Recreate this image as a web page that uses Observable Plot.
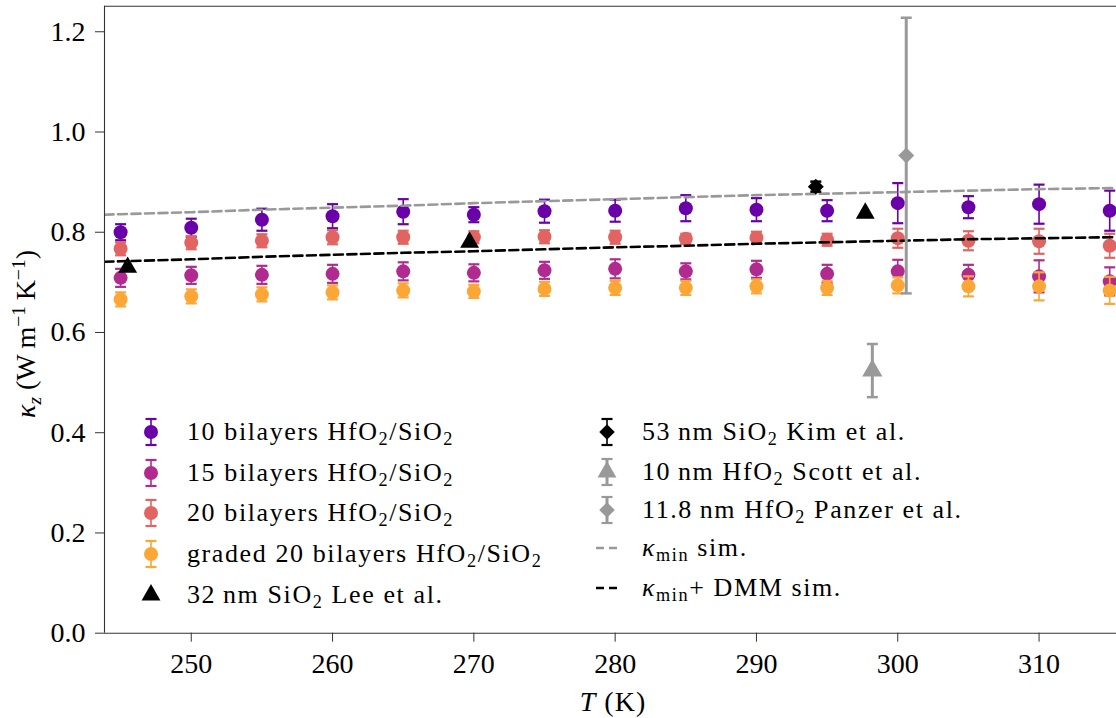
<!DOCTYPE html>
<html><head><meta charset="utf-8">
<script src="https://cdn.jsdelivr.net/npm/d3@7"></script>
<script src="https://cdn.jsdelivr.net/npm/@observablehq/plot@0.6"></script>
<style>
html,body{margin:0;padding:0;background:#fff;}
#wrap{position:relative;width:1116px;height:718px;overflow:hidden;font-family:"Liberation Serif","Times New Roman",Times,"DejaVu Serif",serif;color:#000;}
#wrap svg text{font-family:"Liberation Serif","Times New Roman",Times,"DejaVu Serif",serif;}
.lab{position:absolute;white-space:nowrap;line-height:30px;}
.sb{font-size:70%;position:relative;top:0.3em;}
.sp{font-size:70%;position:relative;top:-0.5em;}
.ico{position:absolute;width:40px;height:40px;overflow:visible;}
</style></head>
<body><div id="wrap"></div>
<script>
// ---- data ----
const temps = [245,250,255,260,265,270,275,280,285,290,295,300,305,310,315];
const k10 = [0.800,0.809,0.825,0.832,0.841,0.835,0.842,0.843,0.848,0.845,0.843,0.858,0.850,0.856,0.843];
const e10 = [0.016,0.018,0.022,0.024,0.025,0.015,0.023,0.022,0.026,0.023,0.021,0.040,0.022,0.039,0.040];
const k15 = [0.709,0.714,0.715,0.717,0.722,0.719,0.724,0.727,0.722,0.726,0.717,0.722,0.715,0.712,0.702];
const e15 = [0.018,0.017,0.018,0.018,0.018,0.017,0.017,0.019,0.016,0.017,0.018,0.023,0.020,0.032,0.028];
const k20 = [0.767,0.779,0.783,0.790,0.790,0.790,0.791,0.790,0.787,0.789,0.785,0.788,0.783,0.782,0.773];
const e20 = [0.013,0.013,0.013,0.014,0.013,0.012,0.013,0.013,0.010,0.012,0.012,0.019,0.019,0.025,0.024];
const kGraded = [0.666,0.672,0.676,0.680,0.684,0.682,0.687,0.689,0.689,0.692,0.689,0.694,0.692,0.692,0.684];
const eGraded = [0.014,0.014,0.014,0.014,0.014,0.013,0.014,0.014,0.014,0.014,0.014,0.016,0.020,0.028,0.027];

const leeT = [245.5, 269.7, 297.7];
const leeK = [0.730, 0.780, 0.838];
const kimT = [294.2], kimK = [0.891], kimE = [0.010];
const scottT = [298.2], scottK = [0.524], scottE = [0.053];
const panzerT = [300.6], panzerK = [0.953], panzerE = [0.275];

const simT = [243.86,245,250,255,260,265,270,275,280,285,290,295,300,305,310,315,315.48];
const kminSim = [0.835,0.836,0.840,0.845,0.849,0.853,0.858,0.862,0.866,0.870,0.874,0.877,0.880,0.883,0.886,0.888,0.888];
const dmmSim  = [0.741,0.742,0.746,0.751,0.755,0.759,0.762,0.766,0.770,0.773,0.777,0.780,0.783,0.786,0.788,0.790,0.790];

const xTicks = [250,260,270,280,290,300,310];
const yTicks = [0,0.2,0.4,0.6,0.8,1.0,1.2];
const xDomain = [243.86, 315.48];
const yDomain = [0, 1.251];

const colors = {s10:"#6a00a8", s15:"#b12a90", s20:"#e16462", graded:"#fca636", black:"#000000", gray:"#999999"};
const FONT = '"Liberation Serif","Times New Roman",Times,"DejaVu Serif",serif';

// ---- build tables ----
const tab = (T, K, E) => T.map((t, i) => ({T: t, k: K[i], e: E ? E[i] : 0}));
const d10 = tab(temps, k10, e10), d15 = tab(temps, k15, e15), d20 = tab(temps, k20, e20), dG = tab(temps, kGraded, eGraded);
const dLee = tab(leeT, leeK), dKim = tab(kimT, kimK, kimE), dScott = tab(scottT, scottK, scottE), dPanzer = tab(panzerT, panzerK, panzerE);
const dKmin = simT.map((t, i) => ({T: t, k: kminSim[i]}));
const dDmm = simT.map((t, i) => ({T: t, k: dmmSim[i]}));

const capSym = (w) => ({draw(ctx){ ctx.moveTo(-w, 0); ctx.lineTo(w, 0); }});

function errMarks(data, o) {
  return [
    Plot.ruleX(data, {x: "T", y1: d => d.k - d.e, y2: d => d.k + d.e, stroke: o.color, strokeWidth: o.lw}),
    Plot.dot(data, {x: "T", y: d => d.k + d.e, symbol: capSym(o.capW), stroke: o.color, strokeWidth: o.capLw, fill: "none"}),
    Plot.dot(data, {x: "T", y: d => d.k - d.e, symbol: capSym(o.capW), stroke: o.color, strokeWidth: o.capLw, fill: "none"}),
    Plot.dot(data, {x: "T", y: "k", r: o.r, symbol: o.symbol, fill: o.color, stroke: "none"})
  ];
}

const seriesOpt = c => ({color: c, lw: 1.6, capW: 5.5, capLw: 2.2, r: 7, symbol: "circle"});

const plot = Plot.plot({
  width: 1116, height: 718,
  marginLeft: 104, marginRight: 0, marginTop: 5.7, marginBottom: 85.3,
  style: {fontFamily: FONT, fontSize: "28px", background: "transparent", overflow: "visible"},
  x: {domain: xDomain},
  y: {domain: yDomain},
  marks: [
    ...errMarks(d10, seriesOpt(colors.s10)),
    ...errMarks(d15, seriesOpt(colors.s15)),
    ...errMarks(d20, seriesOpt(colors.s20)),
    ...errMarks(dG, seriesOpt(colors.graded)),
    Plot.line(dKmin, {x: "T", y: "k", stroke: colors.gray, strokeWidth: 2.6, strokeDasharray: "9,4.5", clip: true}),
    Plot.line(dDmm, {x: "T", y: "k", stroke: colors.black, strokeWidth: 2.6, strokeDasharray: "9,4.5", clip: true}),
    Plot.dot(dLee, {x: "T", y: "k", r: 7, symbol: "triangle", fill: colors.black, stroke: "none"}),
    ...errMarks(dKim, {color: colors.black, lw: 2, capW: 5.5, capLw: 2.5, r: 7.2, symbol: "diamond2"}),
    ...errMarks(dScott, {color: colors.gray, lw: 3, capW: 5.5, capLw: 2.5, r: 7.5, symbol: "triangle"}),
    ...errMarks(dPanzer, {color: colors.gray, lw: 3, capW: 5.5, capLw: 2.5, r: 7.2, symbol: "diamond2"}),
    Plot.ruleY([yDomain[0]], {stroke: "#333", strokeWidth: 1.1}),
    Plot.ruleY([yDomain[1]], {stroke: "#333", strokeWidth: 1.1}),
    Plot.ruleX([xDomain[0]], {stroke: "#333", strokeWidth: 1.1}),
    Plot.axisY({ticks: yTicks, tickFormat: d3.format(".1f"), tickSize: 9, tickPadding: 10, label: null, stroke: "#333", fontFamily: FONT}),
    Plot.axisX({ticks: xTicks, tickFormat: d => String(d), tickSize: 9, tickPadding: 11, label: null, stroke: "#333", fontFamily: FONT})
  ]
});

const wrap = document.getElementById("wrap");
wrap.appendChild(plot);

// axis titles
function addLabel(html, css) {
  const d = document.createElement("div");
  d.className = "lab";
  d.innerHTML = html;
  Object.assign(d.style, css);
  wrap.appendChild(d);
  return d;
}
addLabel('<i>T</i> (K)', {left: "613px", top: "686.5px", fontSize: "28px", transform: "translateX(-50%)", letterSpacing: "1px"});
addLabel('<i>κ<span class="sb">z</span></i> (W&thinsp;m<span class="sp">−1</span>&thinsp;K<span class="sp">−1</span>)',
  {left: "27px", top: "334px", fontSize: "28px", transform: "translate(-50%,-50%) rotate(-90deg)"});

// legend
const legendItems = [
  {html: '10 bilayers HfO<span class="sb">2</span>/SiO<span class="sb">2</span>', icon: "err", color: colors.s10, sym: "circle", col: 0, row: 0},
  {html: '15 bilayers HfO<span class="sb">2</span>/SiO<span class="sb">2</span>', icon: "err", color: colors.s15, sym: "circle", col: 0, row: 1},
  {html: '20 bilayers HfO<span class="sb">2</span>/SiO<span class="sb">2</span>', icon: "err", color: colors.s20, sym: "circle", col: 0, row: 2},
  {html: 'graded 20 bilayers HfO<span class="sb">2</span>/SiO<span class="sb">2</span>', icon: "err", color: colors.graded, sym: "circle", col: 0, row: 3},
  {html: '32&thinsp;nm SiO<span class="sb">2</span> Lee et al.', icon: "pt", color: colors.black, sym: "triangle", col: 0, row: 4},
  {html: '53&thinsp;nm SiO<span class="sb">2</span> Kim et al.', icon: "err", color: colors.black, sym: "diamond2", col: 1, row: 0},
  {html: '10&thinsp;nm HfO<span class="sb">2</span> Scott et al.', icon: "err", color: colors.gray, sym: "triangle", col: 1, row: 1},
  {html: '11.8&thinsp;nm HfO<span class="sb">2</span> Panzer et al.', icon: "err", color: colors.gray, sym: "diamond2", col: 1, row: 2},
  {html: '<i>κ</i><span class="sb">min</span> sim.', icon: "dash", color: colors.gray, col: 1, row: 3},
  {html: '<i>κ</i><span class="sb">min</span>+ DMM sim.', icon: "dash", color: colors.black, col: 1, row: 4}
];
const colX = [{m: 151, t: 187}, {m: 607, t: 642}];
const rowY = [[432, 472.7, 513, 554, 595], [432, 471.7, 510, 548, 587.7]];
const symMap = {circle: d3.symbolCircle, triangle: d3.symbolTriangle, diamond2: d3.symbolDiamond2};
const symR = {circle: 7, triangle: 7, diamond2: 7};

for (const it of legendItems) {
  const cx = colX[it.col], cy = rowY[it.col][it.row];
  const svg = d3.select(wrap).append("svg").attr("class", "ico")
    .style("left", (cx.m - 20) + "px").style("top", (cy - 20) + "px")
    .attr("width", 40).attr("height", 40);
  const g = svg.append("g").attr("transform", "translate(20,20)");
  if (it.icon === "err") {
    const lw = it.color === colors.gray ? 3 : 1.6;
    g.append("line").attr("x1", 0).attr("x2", 0).attr("y1", -13).attr("y2", 13).attr("stroke", it.color).attr("stroke-width", lw);
    for (const yy of [-13, 13]) g.append("line").attr("x1", -5.5).attr("x2", 5.5).attr("y1", yy).attr("y2", yy).attr("stroke", it.color).attr("stroke-width", 2.2);
  }
  if (it.icon === "err" || it.icon === "pt") {
    const r = symR[it.sym];
    g.append("path").attr("d", d3.symbol(symMap[it.sym], Math.PI * r * r)()).attr("fill", it.color);
  }
  if (it.icon === "dash") {
    g.append("line").attr("x1", -11).attr("x2", 11).attr("y1", 0).attr("y2", 0)
      .attr("stroke", it.color).attr("stroke-width", 2.6).attr("stroke-dasharray", "8,5");
  }
  addLabel(it.html, {left: cx.t + "px", top: (cy - 15.2) + "px", fontSize: "26px", letterSpacing: "1.6px"});
}
</script>
</body></html>
